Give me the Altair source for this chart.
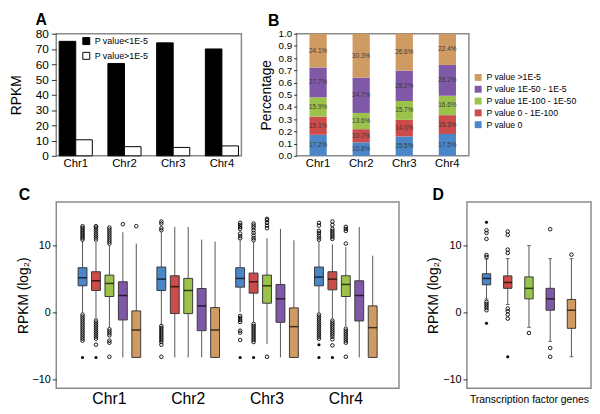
import altair as alt
import pandas as pd

FONT = "Liberation Sans"

chroms = ["Chr1", "Chr2", "Chr3", "Chr4"]

# ---------------- Panel A ----------------
a_series = ["P value<1E-5", "P value>1E-5"]
a_low = [75.0, 60.5, 74.0, 70.0]      # P value<1E-5
a_high = [10.5, 6.0, 5.5, 6.5]        # P value>1E-5

# ---------------- Panel B ----------------
b_cats = ["P value 0", "P value 0 - 1E-100", "P value 1E-100 - 1E-50",
          "P value 1E-50 - 1E-5", "P value >1E-5"]
b_colors = ["#4a86c8", "#cc4b4b", "#9bc34b", "#8058a8", "#d09a63"]
# segment heights as drawn (bottom to top), percent
b_chr1 = [17.2, 14.9, 15.8, 24.4, 27.7]
b_chr2 = [11.0, 10.8, 13.3, 29.0, 35.9]
b_chr3 = [15.9, 13.6, 15.4, 24.8, 30.3]
b_chr4 = [17.9, 15.4, 15.9, 25.2, 25.6]
# printed labels (bottom to top)
b_lab1 = ["17.2%", "15.1%", "15.9%", "27.7%", "24.1%"]
b_lab2 = ["10.8%", "10.7%", "13.6%", "34.7%", "30.3%"]
b_lab3 = ["15.5%", "14.0%", "15.7%", "28.2%", "26.6%"]
b_lab4 = ["17.5%", "15.3%", "16.6%", "28.2%", "22.4%"]

# ---------------- Panel C box stats: lo, q1, med, q3, hi ----------------
c_chr1 = [[0.0, 4.0, 5.2, 6.7, 10.7], [-0.9, 3.3, 4.75, 6.1, 10.5], [-2.2, 2.4, 4.35, 5.6, 10.0],
          [-6.7, -1.1, 2.55, 4.6, 12.0], [-6.7, -6.7, -2.6, 0.25, 10.3]]
c_chr2 = [[-1.8, 3.3, 5.0, 6.8, 12.0], [-6.7, -0.15, 3.87, 5.5, 12.8], [-6.7, -0.15, 3.3, 5.1, 12.8],
          [-6.7, -2.7, 1.0, 3.6, 10.9], [-6.7, -6.7, -2.6, 0.75, 10.6]]
c_chr3 = [[0.1, 3.8, 5.1, 6.7, 10.8], [-1.4, 2.9, 4.6, 5.9, 10.5], [-4.7, 1.4, 4.0, 5.6, 11.1],
          [-6.7, -1.45, 2.05, 4.2, 12.5], [-6.7, -6.7, -2.1, 0.7, 10.8]]
c_chr4 = [[0.0, 4.0, 5.3, 6.8, 10.6], [-0.9, 3.4, 5.0, 6.1, 10.2], [-2.0, 2.4, 4.2, 5.5, 9.8],
          [-6.7, -1.25, 2.55, 4.75, 12.8], [-6.7, -6.7, -2.25, 1.0, 8.5]]

# open-circle outliers: (chromosome, category index, values)
c_open = [
    ("Chr1", 0, [10.9, 11.15, 11.4, 11.65, 11.9, 12.15, 12.4, 12.65, 12.9,
                 -0.3, -0.6, -0.9, -1.2, -1.5, -1.8, -2.1, -2.4, -2.7, -3.0, -3.3, -3.6, -3.9, -4.2]),
    ("Chr1", 1, [10.9, 11.2, 11.5, 11.8, 12.1, 12.4, 12.7, 12.9,
                 -1.2, -1.5, -1.8, -2.1, -2.4, -2.7, -3.0, -3.3, -3.6, -3.9, -4.8]),
    ("Chr1", 2, [10.3, 10.6, 10.9, 11.2, 11.5, 11.8, 12.1, 12.4, 12.7,
                 -2.5, -2.8, -3.1, -3.4, -4.2, -4.5, -6.6]),
    ("Chr1", 3, [13.2]),
    ("Chr1", 4, [12.9]),
    ("Chr2", 0, [12.3, 12.6, 13.3, 13.6,
                 -2.0, -2.3, -2.6, -2.9, -3.2, -3.5, -3.8, -4.1, -4.4, -4.8, -6.6]),
    ("Chr3", 0, [11.1, 11.4, 11.8, 12.5, 12.8, 13.1, 13.4, -0.5, -0.8, -1.1, -1.4, -2.7, -3.0, -4.1]),
    ("Chr3", 1, [10.8, 11.1, 11.5, 11.9, 12.3, 12.7, 13.0, 13.3,
                 -1.7, -2.0, -2.3, -2.6, -2.9, -3.2, -3.5, -3.8, -4.1, -4.4]),
    ("Chr3", 2, [12.6, 13.0, 13.4, 13.8, 14.0, -6.6]),
    ("Chr4", 0, [10.9, 11.2, 11.5, 11.9, 12.2, 13.0, 13.4,
                 -0.3, -0.6, -0.9, -1.2, -1.5, -1.8, -2.1, -2.4, -2.7, -3.0, -3.3, -3.6, -3.9]),
    ("Chr4", 1, [11.0, 11.3, 11.6, 11.9, 12.2, 12.5, 13.1, 13.6,
                 -1.2, -1.5, -1.8, -2.1, -2.4, -2.7, -3.0, -3.3, -3.6, -4.0, -4.9]),
    ("Chr4", 2, [10.3, 12.2, 12.5, 12.8, -2.4, -2.7, -3.0, -3.3, -3.6, -3.9, -4.2, -4.5, -6.6]),
]
# filled dots (many overlapping values)
c_filled = [("Chr1", 0, [-6.7]), ("Chr1", 1, [-6.7]), ("Chr3", 0, [-6.7]), ("Chr3", 1, [-6.7]),
            ("Chr4", 0, [-4.8, -6.7]), ("Chr4", 1, [-6.7])]

# ---------------- Panel D ----------------
d_group = "Transcription factor genes"
d_stats = [[2.0, 4.15, 5.1, 5.8, 8.0], [1.2, 3.62, 4.5, 5.48, 8.06], [-2.2, 2.05, 3.62, 5.33, 10.0],
           [-4.3, 0.35, 2.05, 3.62, 8.06], [-6.6, -2.35, 0.35, 1.96, 8.06]]
d_open = [(0, [8.3, 8.6, 11.0, 11.9, 12.3, 0.35, 0.7, 1.0, 1.3, 1.6]),
          (1, [8.9, 9.4, 11.6, 12.1, 0.6, 0.2, -0.3, -0.9]),
          (2, [-3.05]),
          (3, [12.45, -5.3, -6.6]),
          (4, [8.65])]
d_filled = [(0, [13.5, -1.6]), (1, [-6.6])]

# ================= build tables =================
dfA = pd.DataFrame([{"chr": c, "series": s, "v": v}
                    for c, lo, hi in zip(chroms, a_low, a_high)
                    for s, v in zip(a_series, [lo, hi])])

rowsB = []
for c, hs, ls in zip(chroms, [b_chr1, b_chr2, b_chr3, b_chr4], [b_lab1, b_lab2, b_lab3, b_lab4]):
    for i, (cat, h, lab) in enumerate(zip(b_cats, hs, ls)):
        rowsB.append({"chr": c, "cat": cat, "ord": i, "h": h / 100.0, "lab": lab})
dfB = pd.DataFrame(rowsB)

rowsC = []
for c, st in zip(chroms, [c_chr1, c_chr2, c_chr3, c_chr4]):
    for i, s in enumerate(st):
        rowsC.append({"chr": c, "cat": b_cats[i], "lo": s[0], "q1": s[1], "med": s[2], "q3": s[3], "hi": s[4]})
dfC = pd.DataFrame(rowsC)
dfCo = pd.DataFrame([{"chr": c, "cat": b_cats[i], "v": v} for c, i, vs in c_open for v in vs])
dfCf = pd.DataFrame([{"chr": c, "cat": b_cats[i], "v": v} for c, i, vs in c_filled for v in vs])

dfD = pd.DataFrame([{"chr": d_group, "cat": b_cats[i], "lo": s[0], "q1": s[1], "med": s[2], "q3": s[3], "hi": s[4]}
                    for i, s in enumerate(d_stats)])
dfDo = pd.DataFrame([{"chr": d_group, "cat": b_cats[i], "v": v} for i, vs in d_open for v in vs])
dfDf = pd.DataFrame([{"chr": d_group, "cat": b_cats[i], "v": v} for i, vs in d_filled for v in vs])


def title(letter, dx, offset):
    return alt.TitleParams(letter, anchor="start", frame="group", dx=dx, fontSize=16,
                           fontWeight="bold", font=FONT, offset=offset, color="black")


# ================= Panel A =================
A = alt.Chart(dfA).mark_bar(stroke="black", strokeWidth=1).encode(
    x=alt.X("chr:N", sort=chroms,
            scale=alt.Scale(paddingInner=0.32, paddingOuter=0.06),
            axis=alt.Axis(title=None, labelAngle=0, ticks=False, domain=False,
                          labelFontSize=11.5, labelPadding=2)),
    xOffset=alt.XOffset("series:N", sort=a_series),
    y=alt.Y("v:Q", scale=alt.Scale(domain=[0, 80], nice=False),
            axis=alt.Axis(title="RPKM", values=list(range(0, 81, 10)), grid=False, domain=False,
                          labelFontSize=12, titleFontSize=14, tickSize=5, titlePadding=12,
                          labelPadding=3, labelOverlap=False)),
    fill=alt.Fill("series:N", scale=alt.Scale(domain=a_series, range=["black", "white"]),
                  legend=alt.Legend(title=None, orient="none", legendX=26, legendY=3,
                                    symbolType="square", symbolSize=50,
                                    symbolStrokeColor="black", symbolStrokeWidth=1,
                                    labelFontSize=9, rowPadding=2)),
).properties(width=188, height=124, title=title("A", -21, 0))

# ================= Panel B =================
baseB = alt.Chart(dfB).transform_stack(
    stack="h", as_=["y0", "y1"], groupby=["chr"], sort=[alt.SortField("ord", order="ascending")]
).transform_calculate(mid="(datum.y0 + datum.y1) / 2")

xB = alt.X("chr:N", sort=chroms, scale=alt.Scale(paddingInner=0.6, paddingOuter=0.3),
           axis=alt.Axis(title=None, labelAngle=0, ticks=False, domain=False,
                         labelFontSize=11.5, labelPadding=2))
yaxB = alt.Axis(title="Percentage", values=[i / 10 for i in range(11)], format=".1f",
                grid=False, domain=False, labelFontSize=10, titleFontSize=14,
                tickSize=3, titlePadding=5, labelPadding=2, labelOverlap=False)
ysB = alt.Scale(domain=[0, 1], nice=False)
barsB = baseB.mark_bar().encode(
    x=xB,
    y=alt.Y("y0:Q", scale=ysB, axis=yaxB),
    y2="y1:Q",
    color=alt.Color("cat:N", scale=alt.Scale(domain=b_cats[::-1], range=b_colors[::-1]),
                    legend=alt.Legend(title=None, orient="none", legendX=180, legendY=40,
                                      symbolType="square", symbolSize=49, symbolStrokeWidth=0,
                                      labelFontSize=8.8, rowPadding=2, labelOffset=4)),
)
textB = baseB.mark_text(fontSize=6.5, color="#3a3a3a", baseline="middle").encode(
    x=xB, y=alt.Y("mid:Q", scale=ysB, axis=yaxB), text="lab:N")
B = alt.layer(barsB, textB).properties(width=175, height=124, title=title("B", -29, 0))

# ================= Box plot helper =================
YSC = alt.Scale(domain=[-11.3, 16.5], nice=False)


def boxpanel(stats, opn, fil, width, xscale, xaxis, oscale, boxw, caps, letter, dx):
    x = alt.X("chr:N", sort=chroms, scale=xscale, axis=xaxis)
    xo = alt.XOffset("cat:N", sort=b_cats, scale=oscale)
    yax = alt.Axis(title="RPKM (log₂)", values=[-10, -5, 0, 5, 10, 15], grid=False, domain=False,
                   labelFontSize=11, titleFontSize=14, tickSize=4, titlePadding=2,
                   labelPadding=2, labelOverlap=False)
    base = alt.Chart(stats)
    whisk = base.mark_rule(color="#555555", strokeWidth=1).encode(
        x=x, xOffset=xo, y=alt.Y("lo:Q", scale=YSC, axis=yax), y2="hi:Q")
    box = base.mark_bar(stroke="#3a3a3a", strokeWidth=1, size=boxw).encode(
        x=x, xOffset=xo, y="q1:Q", y2="q3:Q",
        color=alt.Color("cat:N", scale=alt.Scale(domain=b_cats, range=b_colors), legend=None))
    med = base.mark_tick(color="black", thickness=1.5, size=boxw, orient="horizontal").encode(
        x=x, xOffset=xo, y="med:Q")
    layers = [whisk, box, med]
    if caps:
        layers.append(base.mark_tick(color="#333333", thickness=1, size=4, orient="horizontal").encode(
            x=x, xOffset=xo, y="lo:Q"))
        layers.append(base.mark_tick(color="#333333", thickness=1, size=4, orient="horizontal").encode(
            x=x, xOffset=xo, y="hi:Q"))
    layers.append(alt.Chart(opn).mark_point(shape="circle", filled=False, color="black",
                                             size=13, strokeWidth=0.9, opacity=1).encode(
        x=x, xOffset=xo, y="v:Q"))
    layers.append(alt.Chart(fil).mark_circle(color="black", size=10, opacity=1).encode(
        x=x, xOffset=xo, y="v:Q"))
    return alt.layer(*layers).properties(width=width, height=189, title=title(letter, dx, -1))


C = boxpanel(dfC, dfCo, dfCf, 348,
             alt.Scale(paddingInner=0.207, paddingOuter=0.278),
             alt.Axis(title=None, labelAngle=0, ticks=False, domain=False, labelFontSize=16, labelPadding=2),
             alt.Scale(paddingInner=0.348, paddingOuter=0), 9, False, "C", -38)

D = boxpanel(dfD, dfDo, dfDf, 126,
             alt.Scale(paddingInner=0, paddingOuter=0.168),
             alt.Axis(title=d_group, labels=False, ticks=False, domain=False, titleFontSize=10.5,
                      titleFontWeight="normal", titlePadding=6),
             alt.Scale(paddingInner=0.626, paddingOuter=0), 8.5, True, "D", -35)

top = alt.hconcat(A, B, spacing=16).resolve_scale(
    x="independent", y="independent", xOffset="independent", color="independent", fill="independent")
bottom = alt.hconcat(C, D, spacing=26).resolve_scale(
    x="independent", y="independent", xOffset="independent", color="independent")
chart = alt.vconcat(top, bottom, spacing=16).resolve_scale(
    x="independent", y="independent", xOffset="independent", color="independent", fill="independent"
).properties(padding=0).configure(
    font=FONT
).configure_view(
    stroke="#8a8a8a", strokeWidth=1.5
).configure_axis(
    labelColor="black", titleColor="black", tickColor="#333333", labelFont=FONT, titleFont=FONT,
    titleFontWeight="normal"
).configure_legend(
    labelFont=FONT, labelColor="black"
)

chart.save("out.html", embed_options={"renderer": "svg", "actions": False})
